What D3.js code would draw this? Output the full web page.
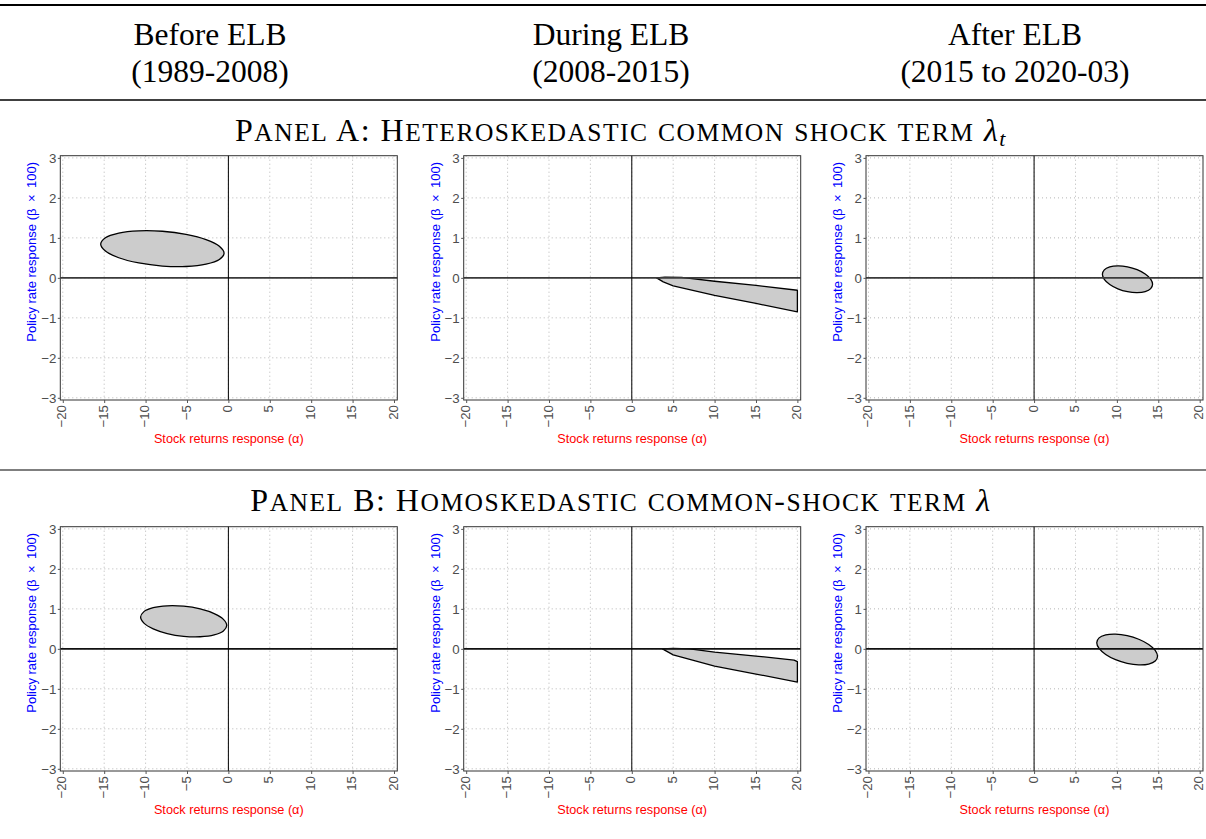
<!DOCTYPE html>
<html>
<head>
<meta charset="utf-8">
<script src="https://cdnjs.cloudflare.com/ajax/libs/d3/7.8.5/d3.min.js"></script>
<style>
  body { margin: 0; background: #fff; }
  svg { display: block; }
</style>
</head>
<body>
<svg id="chart"></svg>
<script>
// column headers
const periodNames = ["Before ELB", "During ELB", "After ELB"];
const periodSpans = ["(1989-2008)", "(2008-2015)", "(2015 to 2020-03)"];

// axis ticks
const alphaTicks = [-20, -15, -10, -5, 0, 5, 10, 15, 20];
const betaTicks = [-3, -2, -1, 0, 1, 2, 3];

// confidence regions, [alpha, beta*100]
// panel A: heteroskedastic lambda_t
const hetBefore = [[-0.52, 0.615], [-1.09, 0.790], [-2.70, 0.957], [-5.12, 1.088], [-7.97, 1.165], [-10.82, 1.176],
  [-13.24, 1.119], [-14.85, 1.003], [-15.42, 0.845], [-14.85, 0.670], [-13.24, 0.503], [-10.82, 0.372],
  [-7.97, 0.295], [-5.12, 0.284], [-2.70, 0.341], [-1.09, 0.457]];
const hetDuring = [[3.0, 0.0], [4.0, 0.02], [6.0, 0.01], [10, -0.085], [15, -0.19], [20, -0.31],
  [20, -0.85], [15, -0.64], [10, -0.44], [5, -0.2], [3.8, -0.1]];
const hetAfter = [[14.31, -0.160], [14.08, -0.032], [13.42, 0.096], [12.44, 0.204], [11.28, 0.276], [10.12, 0.300],
  [9.14, 0.273], [8.48, 0.200], [8.25, 0.090], [8.48, -0.038], [9.14, -0.166], [10.12, -0.274],
  [11.28, -0.346], [12.44, -0.370], [13.42, -0.343], [14.08, -0.270]];
// panel B: homoskedastic lambda
const homBefore = [[-0.2, 0.585], [-0.60, 0.737], [-1.72, 0.881], [-3.41, 0.997], [-5.4, 1.066], [-7.39, 1.077],
  [-9.08, 1.030], [-10.20, 0.931], [-10.6, 0.795], [-10.20, 0.643], [-9.08, 0.499], [-7.39, 0.383],
  [-5.4, 0.314], [-3.41, 0.303], [-1.72, 0.350], [-0.60, 0.449]];
const homDuring = [[3.7, 0.0], [5.0, 0.01], [7.0, 0.0], [10, -0.08], [15, -0.18], [19.6, -0.28], [20, -0.32],
  [20, -0.83], [15, -0.63], [10, -0.43], [5, -0.15]];
const homAfter = [[14.91, -0.184], [14.63, -0.039], [13.84, 0.110], [12.64, 0.240], [11.24, 0.331], [9.84, 0.369],
  [8.65, 0.349], [7.85, 0.274], [7.57, 0.154], [7.85, 0.009], [8.65, -0.140], [9.84, -0.270],
  [11.24, -0.361], [12.64, -0.399], [13.84, -0.379], [14.63, -0.304]];

const W = 1206, H = 839;
const serif = "'Liberation Serif', 'Times New Roman', serif";
const sans = "'Liberation Sans', Arial, Helvetica, sans-serif";

const svg = d3.select("#chart").attr("width", W).attr("height", H);
svg.append("rect").attr("width", W).attr("height", H).attr("fill", "#fff");

// rules
const rule = (y, w) => svg.append("line").attr("x1", 0).attr("x2", W).attr("y1", y).attr("y2", y)
  .attr("stroke", "#000").attr("stroke-width", w);
rule(5, 2.2);
rule(100, 1.5);
rule(470, 1.2);

const headerX = [210, 611, 1015];
periodNames.forEach((n, i) => {
  svg.append("text").attr("x", headerX[i]).attr("y", 45).attr("text-anchor", "middle")
    .style("font-family", serif).style("font-size", "31.5px").text(n);
  svg.append("text").attr("x", headerX[i]).attr("y", 82).attr("text-anchor", "middle")
    .style("font-family", serif).style("font-size", "31.5px").text(periodSpans[i]);
});

// small caps done by hand
function smallCaps(sel, str, big, small) {
  const runs = [];
  for (const ch of str) {
    const low = ch !== ch.toUpperCase();
    const last = runs[runs.length - 1];
    if (last && last.low === low) last.s += ch; else runs.push({ low, s: ch });
  }
  runs.forEach(r => sel.append("tspan").style("font-size", (r.low ? small : big) + "px")
    .text(r.low ? r.s.toUpperCase() : r.s));
}

function panelTitle(y, str, sub) {
  const t = svg.append("text").attr("x", 621).attr("y", y).attr("text-anchor", "middle")
    .style("font-family", serif).style("letter-spacing", "1.5px");
  smallCaps(t, str, 32, 25.5);
  t.append("tspan").style("font-size", "32px").style("font-style", "italic").text("λ");
  if (sub) t.append("tspan").style("font-size", "22px").style("font-style", "italic")
    .attr("dy", 5).text(sub);
}
panelTitle(141, "Panel A: Heteroskedastic common shock term ", "t");
panelTitle(511, "Panel B: Homoskedastic common-shock term ", null);

const zeroX = [228.3, 631.7, 1034];
const panels = [
  { top: 155.7, shapes: [hetBefore, hetDuring, hetAfter], smooth: [true, false, true], zeroCol: "#3a3a3a" },
  { top: 526.7, shapes: [homBefore, homDuring, homAfter], smooth: [true, false, true], zeroCol: "#111" }
];
const boxH = 244.3;

panels.forEach(p => {
  zeroX.forEach((z, i) => {
    const left = z - 168, right = z + 169;
    const top = p.top, bottom = p.top + boxH;
    const x = d3.scaleLinear().domain([-20.3, 20.4]).range([left, right]);
    const y = d3.scaleLinear().domain([-3.055, 3.055]).range([bottom, top]);
    const g = svg.append("g");

    // dotted grid
    g.selectAll(".gx").data(alphaTicks).join("line")
      .attr("x1", d => x(d)).attr("x2", d => x(d)).attr("y1", top).attr("y2", bottom)
      .attr("stroke", "#b5b5b5").attr("stroke-dasharray", "1,3");
    g.selectAll(".gy").data(betaTicks).join("line")
      .attr("y1", d => y(d)).attr("y2", d => y(d)).attr("x1", left).attr("x2", right)
      .attr("stroke", "#b5b5b5").attr("stroke-dasharray", "1,3");

    // region
    const line = d3.line().x(d => x(d[0])).y(d => y(d[1]))
      .curve(p.smooth[i] ? d3.curveCatmullRomClosed.alpha(0.5) : d3.curveLinearClosed);
    g.append("path").attr("d", line(p.shapes[i]))
      .attr("fill", "#cccccc").attr("stroke", "#000").attr("stroke-width", 1.3)
      .attr("stroke-linejoin", "round");

    // zero lines
    g.append("line").attr("x1", left).attr("x2", right).attr("y1", y(0)).attr("y2", y(0))
      .attr("stroke", p.zeroCol).attr("stroke-width", 1.6);
    g.append("line").attr("x1", x(0)).attr("x2", x(0)).attr("y1", top).attr("y2", bottom)
      .attr("stroke", "#000").attr("stroke-width", 1);

    // box
    g.append("rect").attr("x", left).attr("y", top).attr("width", right - left).attr("height", bottom - top)
      .attr("fill", "none").attr("stroke", "#333").attr("stroke-width", 1);

    // axes
    const ax = g.append("g").attr("transform", `translate(0,${bottom})`)
      .call(d3.axisBottom(x).tickValues(alphaTicks).tickSize(3).tickSizeOuter(0).tickFormat(d3.format("d")));
    ax.select(".domain").remove();
    ax.selectAll("line").attr("stroke", "#555");
    ax.selectAll(".tick text").attr("x", 0).attr("y", 0).attr("dy", 0)
      .attr("text-anchor", "end").attr("fill", "#4d4d4d")
      .attr("transform", "translate(3.2,5) rotate(-90)")
      .style("font-family", sans).style("font-size", "13.3px");

    const ay = g.append("g").attr("transform", `translate(${left},0)`)
      .call(d3.axisLeft(y).tickValues(betaTicks).tickSize(2.5).tickSizeOuter(0).tickPadding(1.5).tickFormat(d3.format("d")));
    ay.select(".domain").remove();
    ay.selectAll("line").attr("stroke", "#555");
    ay.selectAll("text").attr("fill", "#4d4d4d").style("font-family", sans).style("font-size", "13.3px");

    // titles
    g.append("text").attr("x", (left + right) / 2).attr("y", bottom + 43).attr("text-anchor", "middle")
      .attr("fill", "#ff0000").style("font-family", sans).style("font-size", "12.7px")
      .text("Stock returns response (α)");
    g.append("text").attr("transform", `translate(${left - 24},${(top + bottom) / 2 - 26}) rotate(-90)`)
      .attr("text-anchor", "middle").attr("fill", "#0000ff").style("font-family", sans).style("font-size", "13px")
      .text("Policy rate response (β\u2002×\u2002100)");
  });
});
</script>
</body>
</html>
